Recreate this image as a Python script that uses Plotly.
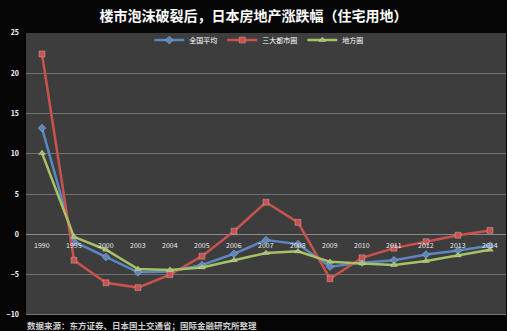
import plotly.graph_objects as go

years = ["1990", "1995", "2000", "2003", "2004", "2005", "2006", "2007",
         "2008", "2009", "2010", "2011", "2012", "2013", "2014"]
national = [13.2, -0.9, -2.8, -4.7, -4.6, -3.8, -2.4, -0.7, -1.2, -4.0, -3.5, -3.2, -2.5, -2.0, -1.4]
metro = [22.4, -3.2, -6.0, -6.6, -5.0, -2.7, 0.4, 4.0, 1.5, -5.5, -2.9, -1.7, -0.9, -0.1, 0.5]
regional = [10.1, -0.3, -1.9, -4.3, -4.4, -4.1, -3.2, -2.3, -2.1, -3.4, -3.6, -3.8, -3.3, -2.6, -1.9]
names = ["全国平均", "三大都市圈", "地方圈"]
title = "楼市泡沫破裂后，日本房地产涨跌幅（住宅用地）"
source = "数据来源：东方证券、日本国土交通省；国际金融研究所整理"

font = "Noto Sans CJK SC"
fig = go.Figure()
series = [(national, "#5b86c0", "diamond"), (metro, "#c9524e", "square"), (regional, "#a6c264", "triangle-up")]
for (vals, col, sym), nm in zip(series, names):
    fig.add_trace(go.Scatter(x=years, y=vals, name=nm, mode="lines+markers",
                             line=dict(color=col, width=2.5),
                             marker=dict(symbol=sym, size=6, color=col,
                                         line=dict(color="rgba(255,255,255,0.5)", width=0.5))))

for i, yr in enumerate(years):
    fig.add_annotation(x=i, y=0, xref="x", yref="y", text=yr, showarrow=False,
                       yshift=-11, font=dict(family=font, size=7, color="#e8e8e8"))

fig.add_annotation(x=0.0, y=0, xref="paper", yref="paper", yanchor="top", xanchor="left",
                   xshift=-1, yshift=-2, text=source, showarrow=False,
                   font=dict(family=font, size=8.5, color="#cfcfcf", weight="bold"))

fig.update_layout(
    width=507, height=331,
    margin=dict(l=26, r=1, t=33, b=16),
    paper_bgcolor="#050505", plot_bgcolor="#3d3d3d",
    title=dict(text=title, x=0.5, xanchor="center", y=0.952, yanchor="middle",
               font=dict(family=font, size=14, color="white", weight="bold")),
    legend=dict(orientation="h", x=0.485, xanchor="center", y=0.975, yanchor="middle",
                bgcolor="rgba(0,0,0,0)", font=dict(family=font, size=7, color="white"),
                itemwidth=30, tracegroupgap=0),
    showlegend=True,
    xaxis=dict(type="category", showticklabels=False, showgrid=False, zeroline=False,
               range=[-0.5, len(years) - 0.5], showline=False),
    yaxis=dict(range=[-10, 25], dtick=5, showgrid=True, gridcolor="#707070", gridwidth=1,
               zeroline=True, zerolinecolor="#8a8a8a", zerolinewidth=1,
               tickfont=dict(family=font, size=7, color="white", weight="bold"),
               ticklabelstandoff=6),
)
fig.add_hline(y=-10, line=dict(color="#8a8a8a", width=1.5))

fig.write_html("out.html")
